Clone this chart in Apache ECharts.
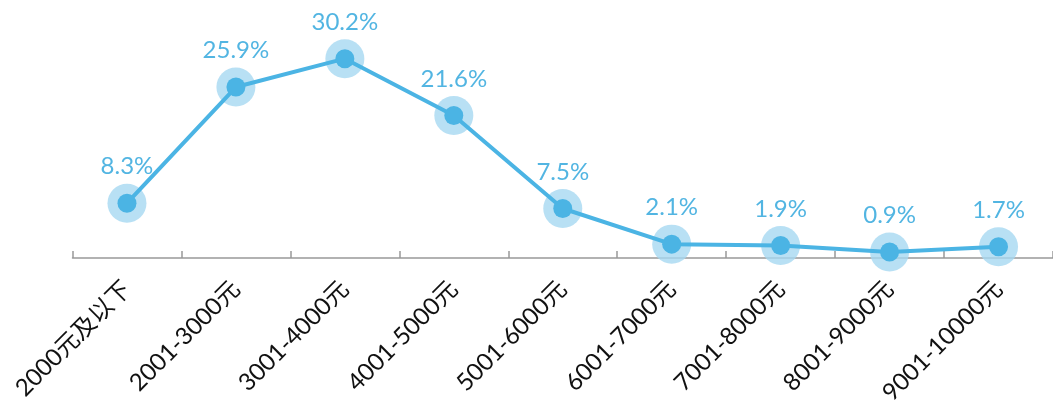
<!DOCTYPE html>
<html>
<head>
<meta charset="utf-8">
<script src="https://cdn.jsdelivr.net/npm/echarts@6/dist/echarts.min.js"></script>
<style>
  html, body { margin: 0; padding: 0; background: #fff; }
  #chart { width: 1053px; height: 410px; }
</style>
</head>
<body>
<div id="chart"></div>
<script>
// 价格区间
const categories = ['2000元及以下', '2001-3000元', '3001-4000元', '4001-5000元', '5001-6000元',
  '6001-7000元', '7001-8000元', '8001-9000元', '9001-10000元']
// 占比 (%)
const shares = [8.3, 25.9, 30.2, 21.6, 7.5, 2.1, 1.9, 0.9, 1.7]

const lineColor = '#4bb4e4'
const chart = echarts.init(document.getElementById('chart'))

const option = {
  animation: false,
  grid: { left: 72.5, width: 983, top: 27, bottom: 152 },
  xAxis: {
    type: 'category',
    data: categories,
    boundaryGap: true,
    axisLine: { show: true, lineStyle: { color: '#999', width: 1.5 } },
    axisTick: { show: true, inside: true, length: 7, lineStyle: { color: '#999', width: 1.5 } },
    axisLabel: {
      rotate: 45,
      margin: 27,
      interval: 0,
      fontSize: 24,
      color: '#111',
      fontFamily: 'Lato, "Noto Sans CJK SC", sans-serif'
    }
  },
  yAxis: {
    type: 'value',
    min: 0,
    max: 35,
    show: false
  },
  series: [
    {
      // 外圈光晕
      type: 'scatter',
      data: shares,
      symbolSize: 39,
      itemStyle: { color: '#a6d8f1' },
      z: 1,
      silent: true
    },
    {
      type: 'line',
      data: shares,
      symbol: 'circle',
      symbolSize: 19,
      lineStyle: { color: lineColor, width: 4 },
      itemStyle: { color: lineColor },
      z: 2,
      label: {
        show: true,
        position: 'top',
        distance: 15,
        fontSize: 24,
        color: '#52b5e2',
        fontFamily: 'Lato, sans-serif',
        formatter: p => p.value + '%'
      }
    }
  ]
}

chart.setOption(option)
</script>
</body>
</html>
